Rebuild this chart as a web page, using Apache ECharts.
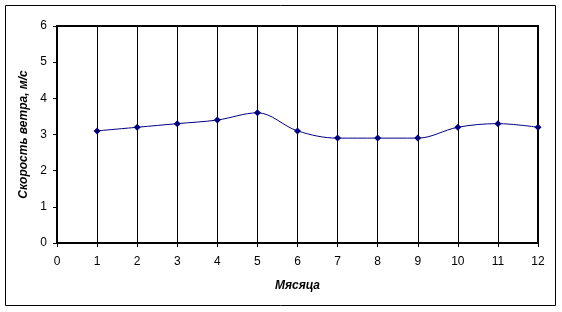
<!DOCTYPE html>
<html><head><meta charset="utf-8">
<script src="https://cdn.jsdelivr.net/npm/echarts@6/dist/echarts.min.js"></script>
<style>html,body{margin:0;padding:0;background:#fff}#c{width:562px;height:312px}</style>
</head><body><div id="c"></div>
<script>
const months = [1,2,3,4,5,6,7,8,9,10,11,12];
const speed = [3.1,3.2,3.3,3.4,3.6,3.1,2.9,2.9,2.9,3.2,3.3,3.2];
const xName = 'Мясяца';
const yName = 'Скорость ветра, м/с';
const chart = echarts.init(document.getElementById('c'));
const font = 'Liberation Sans, Arial, sans-serif';
chart.setOption({
  animation:false,
  backgroundColor:'#fff',
  graphic:[{type:'rect',shape:{x:5.5,y:5.5,width:550,height:300},style:{fill:'none',stroke:'#000',lineWidth:1},z:-1}],
  grid:{left:57,right:24,top:26,bottom:69,show:true,borderColor:'#000',borderWidth:2,backgroundColor:'#fff'},
  xAxis:{type:'value',min:0,max:12,interval:1,
    name:xName,nameLocation:'middle',nameGap:37,
    nameTextStyle:{fontFamily:font,fontSize:12,fontWeight:'bold',fontStyle:'italic',color:'#000'},
    axisLine:{lineStyle:{color:'#000',width:2}},
    axisTick:{show:true,length:4,lineStyle:{color:'#000',width:1}},
    axisLabel:{fontFamily:font,fontSize:12,color:'#000',margin:13},
    splitLine:{show:true,lineStyle:{color:'#000',width:1}}},
  yAxis:{type:'value',min:0,max:6,interval:1,
    name:yName,nameLocation:'middle',nameGap:24,
    nameTextStyle:{fontFamily:font,fontSize:12,fontWeight:'bold',fontStyle:'italic',color:'#000'},
    axisLine:{show:true,lineStyle:{color:'#000',width:2}},
    axisTick:{show:true,length:4,lineStyle:{color:'#000',width:1}},
    axisLabel:{fontFamily:font,fontSize:12,color:'#000',margin:10},
    splitLine:{show:false}},
  series:[{type:'line',data:months.map((m,i)=>[m,speed[i]]),smooth:0.35,
    symbol:'diamond',symbolSize:7,
    lineStyle:{color:'#000080',width:1},itemStyle:{color:'#000080'}}]
});
</script></body></html>
